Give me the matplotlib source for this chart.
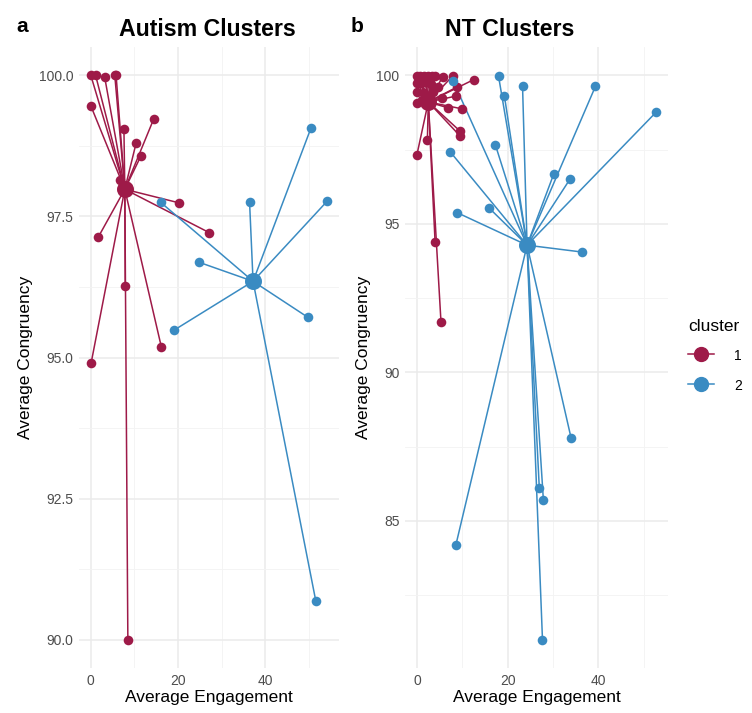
import numpy as np
import matplotlib.pyplot as plt
from matplotlib.lines import Line2D

plt.rcParams['font.family'] = ['Liberation Sans', 'DejaVu Sans']

RED = "#9E1A48"
BLUE = "#3A8BC2"

# Autism group: (engagement, congruency) for each participant, by cluster
aut_c1_x = [0.0, 1.1, 3.2, 5.5, 5.8, 0.0, 7.6, 14.4, 10.4, 11.5, 6.7, 20.2, 27.2, 1.7, 7.9, 16.2, 0.1, 8.5]
aut_c1_y = [100.0, 100.0, 99.96, 100.0, 100.0, 99.46, 99.04, 99.22, 98.80, 98.57, 98.14, 97.74, 97.21, 97.13, 96.26, 95.18, 94.91, 90.0]
aut_c2_x = [16.0, 36.4, 54.2, 24.7, 19.0, 49.8, 51.6, 50.5]
aut_c2_y = [97.75, 97.75, 97.77, 96.69, 95.48, 95.71, 90.68, 99.07]
aut_centers = {1: (7.8, 97.98), 2: (37.2, 96.35)}

# NT group
nt_c1_x = [0.0, 0.7, 1.6, 2.5, 3.3, 4.0, 5.7, 7.9, 0.0, 1.0, 2.0, 3.0, 12.5, 0.0, 1.5, 3.5,
           8.8, 0.0, 6.9, 9.9, 9.5, 9.6, 2.3, 0.0, 4.0, 5.3, 5.5, 8.7, 1.2, 4.6]
nt_c1_y = [99.97, 99.97, 99.97, 99.97, 99.97, 99.97, 99.95, 99.98, 99.75, 99.75, 99.78, 99.72, 99.85, 99.44, 99.40, 99.45,
           99.60, 99.07, 98.90, 98.87, 98.12, 97.94, 97.83, 97.33, 94.39, 91.70, 99.25, 99.30, 99.15, 99.60]
nt_c2_x = [18.0, 19.3, 23.3, 39.4, 52.8, 17.3, 30.2, 33.8, 16.0, 36.4, 8.0, 7.3, 8.8, 34.0, 27.0, 27.9, 27.7, 8.6]
nt_c2_y = [99.97, 99.30, 99.63, 99.63, 98.76, 97.66, 96.68, 96.51, 95.52, 94.05, 99.80, 97.43, 95.38, 87.8, 86.1, 85.7, 81.0, 84.2]
nt_centers = {1: (2.5, 99.10), 2: (24.3, 94.28)}

fig = plt.figure(figsize=(7.52, 7.13), dpi=100)
W, H = 752, 713


def px_axes(left, right, top, bottom):
    return fig.add_axes([left / W, 1 - bottom / H, (right - left) / W, (bottom - top) / H])


def draw_panel(ax, groups, centers, yticks, yfmt):
    for cl, (xs, ys), col in zip((1, 2), groups, (RED, BLUE)):
        cx, cy = centers[cl]
        for x, y in zip(xs, ys):
            ax.plot([x, cx], [y, cy], color=col, lw=1.1, zorder=2, solid_capstyle='round')
        ax.scatter(xs, ys, s=48, color=col, zorder=3, linewidths=0)
        ax.scatter([cx], [cy], s=150, color=col, zorder=4, linewidths=0)
    ax.set_xticks([0, 20, 40])
    ax.set_xticks([10, 30, 50], minor=True)
    ax.set_yticks(yticks)
    step = yticks[1] - yticks[0]
    ax.set_yticks([t + step / 2 for t in yticks[:-1]] + [yticks[0] - step / 2], minor=True)
    ax.set_yticklabels([yfmt.format(t) for t in yticks])
    ax.grid(which='major', color='#EBEBEB', lw=1.1)
    ax.grid(which='minor', color='#F3F3F3', lw=0.6)
    ax.set_axisbelow(True)
    for s in ax.spines.values():
        s.set_visible(False)
    ax.tick_params(which='both', length=0, labelsize=10, labelcolor='#4D4D4D', pad=4)
    ax.set_xlabel("Average Engagement", fontsize=12.5, labelpad=2)
    ax.set_ylabel("Average Congruency", fontsize=12.5, labelpad=4)


ax1 = px_axes(79, 339, 47, 668)
draw_panel(ax1, [(aut_c1_x, aut_c1_y), (aut_c2_x, aut_c2_y)], aut_centers,
           [90.0, 92.5, 95.0, 97.5, 100.0], "{:.1f}")
ax1.set_xlim(-2.7, 56.9)
ax1.set_ylim(89.5, 100.5)

ax2 = px_axes(405, 668, 47, 668)
draw_panel(ax2, [(nt_c1_x, nt_c1_y), (nt_c2_x, nt_c2_y)], nt_centers,
           [85, 90, 95, 100], "{:.0f}")
ax2.set_xlim(-2.64, 55.4)
ax2.set_ylim(80.05, 100.95)

fig.text(207 / W, 1 - 30 / H, "Autism Clusters", fontsize=16.7, fontweight='bold', ha='center', va='center')
fig.text(510 / W, 1 - 30 / H, "NT Clusters", fontsize=16.7, fontweight='bold', ha='center', va='center')
fig.text(16 / W, 1 - 26 / H, "a", fontsize=15, fontweight='bold', ha='left', va='center')
fig.text(351 / W, 1 - 26 / H, "b", fontsize=15, fontweight='bold', ha='left', va='center')

handles = [Line2D([], [], color=c, lw=1.1, marker='o', markersize=10) for c in (RED, BLUE)]
fig.legend(handles, ["1", "2"], title="cluster", loc='upper left',
           bbox_to_anchor=(681 / W, 1 - 312 / H), frameon=False, fontsize=10,
           title_fontsize=12.5, handlelength=1.9, labelspacing=1.05, alignment='left',
           borderpad=0, handletextpad=1.4, handleheight=1.2)

fig.savefig("out.png", dpi=100)
